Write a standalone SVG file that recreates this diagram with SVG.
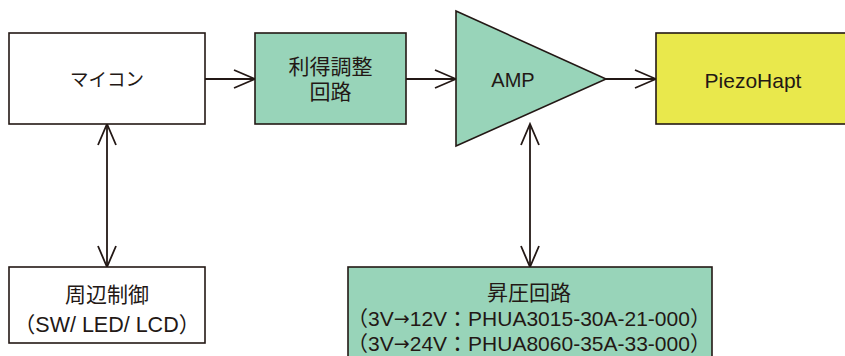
<svg xmlns="http://www.w3.org/2000/svg" width="845" height="356" viewBox="0 0 845 356">
<defs>
<style>
.box{stroke:#231815;stroke-width:1.6}
.w{fill:#ffffff}
.g{fill:#98d4b9}
.y{fill:#e9e84c}
.t{font-family:"Liberation Sans","Noto Sans CJK JP",sans-serif;font-size:21px;fill:#231815;text-anchor:middle;dominant-baseline:central}
.ar{font-family:"DejaVu Sans",sans-serif;font-size:19px}
.ln{stroke:#231815;stroke-width:1.8;fill:none}
</style>
<marker id="ah" viewBox="0 0 24 20" refX="22" refY="10" markerWidth="24" markerHeight="20" markerUnits="userSpaceOnUse" orient="auto-start-reverse">
<path d="M1,1 L22,10 L1,19" fill="none" stroke="#231815" stroke-width="1.8"/>
</marker>
</defs>
<rect width="845" height="356" fill="#ffffff"/>
<g id="connectors">
<line class="ln" x1="205" y1="79" x2="255" y2="79" marker-end="url(#ah)"/>
<line class="ln" x1="406" y1="79" x2="456" y2="79" marker-end="url(#ah)"/>
<line class="ln" x1="606" y1="79" x2="656" y2="79" marker-end="url(#ah)"/>
<line class="ln" x1="107" y1="124" x2="107" y2="267" marker-start="url(#ah)" marker-end="url(#ah)"/>
<line class="ln" x1="530" y1="124" x2="530" y2="267" marker-start="url(#ah)" marker-end="url(#ah)"/>
</g>
<g id="micon">
<rect class="box w" x="9" y="33" width="196" height="91"/>
<text class="t" x="107" y="79" style="font-size:18.5px">マイコン</text>
</g>
<g id="gain">
<rect class="box g" x="255" y="33" width="151" height="91"/>
<text class="t" x="330.5" y="66">利得調整</text>
<text class="t" x="330.5" y="91">回路</text>
</g>
<g id="amp">
<polygon class="box g" points="456,11 606,79 456,146"/>
<text class="t" x="513" y="80" style="font-size:20px">AMP</text>
</g>
<g id="piezo">
<rect class="box y" x="656" y="33" width="195" height="91"/>
<text class="t" x="753" y="80">PiezoHapt</text>
</g>
<g id="peripheral">
<rect class="box w" x="9" y="267" width="196" height="76"/>
<text class="t" x="107" y="294">周辺制御</text>
<text class="t" x="107" y="325" style="font-size:21.5px">（SW/ LED/ LCD）</text>
</g>
<g id="boost">
<rect class="box g" x="348" y="267" width="364" height="100"/>
<text class="t" x="529" y="292">昇圧回路</text>
<text class="t" x="529" y="318">（3V<tspan class="ar">→</tspan>12V：PHUA3015-30A-21-000）</text>
<text class="t" x="529" y="343">（3V<tspan class="ar">→</tspan>24V：PHUA8060-35A-33-000）</text>
</g>
</svg>
